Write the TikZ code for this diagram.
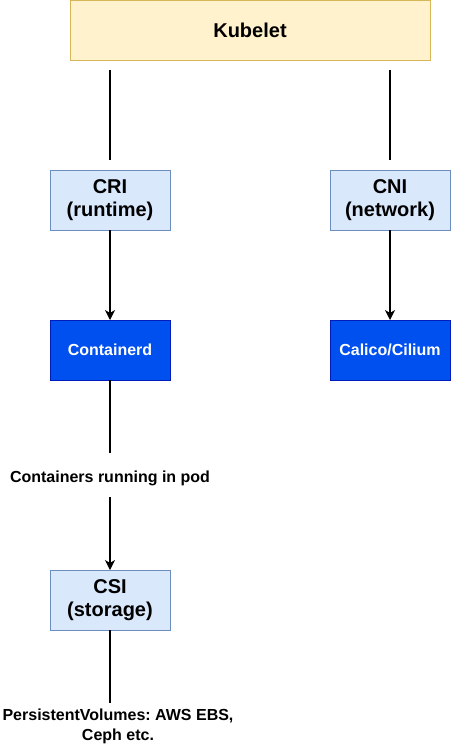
\documentclass[tikz,border=0pt]{standalone}
\usepackage{fontspec}
\setmainfont{Liberation Sans}
\frenchspacing
\usetikzlibrary{arrows.meta}
\definecolor{kubefill}{HTML}{FFF2CC}
\definecolor{kubeline}{HTML}{D6B656}
\definecolor{ifacefill}{HTML}{DAE8FC}
\definecolor{ifaceline}{HTML}{6C8EBF}
\definecolor{implfill}{HTML}{0050EF}
\definecolor{implline}{HTML}{001DBC}
\tikzset{box/.style={draw,line width=0.8pt,outer sep=0pt,minimum width=120pt,minimum height=60pt,align=center,font=\bfseries\fontsize{20}{23}\selectfont}}
\tikzset{iface/.style={box,fill=ifacefill,draw=ifaceline}}
\tikzset{impl/.style={box,fill=implfill,draw=implline,text=white,font=\bfseries\fontsize{16}{19}\selectfont}}
\tikzset{link/.style={line width=1.3pt,black}}
\tikzset{linkarrow/.style={link,-{Stealth[length=10pt,width=10pt,inset=3pt]}}}
\tikzset{plain/.style={inner sep=0pt,outer sep=0pt,align=center,font=\bfseries\fontsize{16}{20}\selectfont}}

\begin{document}
\begin{tikzpicture}[x=1pt,y=-1pt]
	\useasboundingbox (0,0) rectangle (451,751);
	% the kubelet on top
	\node [box,fill=kubefill,draw=kubeline,minimum width=360pt] (kubelet) at (250,30) {Kubelet};
	% interfaces and their implementations
	\node [iface] (cri) at (110,200) {CRI\\(runtime)};
	\node [iface] (cni) at (390,200) {CNI\\(network)};
	\node [impl] (containerd) at (110,350) {Containerd};
	\node [impl] (calico) at (390,350) {Calico/Cilium};
	\node [plain,anchor=base,text height=12pt,text depth=4pt] (pod) at (110,482) {Containers running in pod};
	\node [iface] (csi) at (110,600) {CSI\\(storage)};
	\node [plain,anchor=north] (pv) at (118,709) {PersistentVolumes: AWS EBS,\\Ceph etc.};

	\draw [link,shorten <=10pt,shorten >=10pt] (kubelet.south -| cri.north) -- (cri.north);
	\draw [link,shorten <=10pt,shorten >=10pt] (kubelet.south -| cni.north) -- (cni.north);
	\draw [linkarrow] (cri) -- (containerd);
	\draw [linkarrow] (cni) -- (calico);
	\draw [link,shorten >=17pt] (containerd) -- (containerd.south |- pod.north);
	\draw [linkarrow,shorten <=11pt] (pod.south -| csi.north) -- (csi);
	\draw [link,shorten >=6pt] (csi) -- (csi.south |- pv.north);
\end{tikzpicture}
\end{document}
